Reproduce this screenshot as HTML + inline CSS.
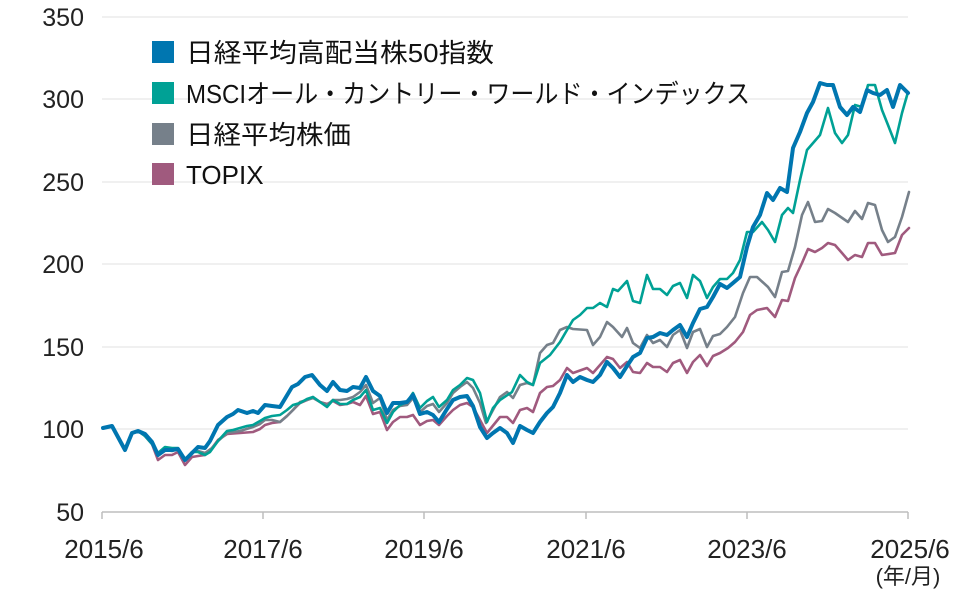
<!DOCTYPE html>
<html><head><meta charset="utf-8"><style>
body{margin:0;background:#fff;}
svg{display:block;font-family:"Liberation Sans","Noto Sans CJK JP",sans-serif;}
</style></head><body>
<svg width="960" height="590" viewBox="0 0 960 590" xmlns="http://www.w3.org/2000/svg">
<g stroke="#e8e8e8" stroke-width="1.2">
<line x1="102" x2="908" y1="17" y2="17"/><line x1="102" x2="908" y1="99" y2="99"/><line x1="102" x2="908" y1="182" y2="182"/><line x1="102" x2="908" y1="264" y2="264"/><line x1="102" x2="908" y1="347" y2="347"/><line x1="102" x2="908" y1="429" y2="429"/>
</g>
<g stroke="#bdbdbd" stroke-width="1.5">
<line x1="102" x2="908" y1="512" y2="512"/>
<line x1="102" x2="102" y1="512" y2="519"/><line x1="263" x2="263" y1="512" y2="519"/><line x1="424" x2="424" y1="512" y2="519"/><line x1="586" x2="586" y1="512" y2="519"/><line x1="747" x2="747" y1="512" y2="519"/><line x1="908" x2="908" y1="512" y2="519"/>
</g>
<g font-size="25" fill="#222" text-anchor="end">
<text x="84" y="26">350</text><text x="84" y="108">300</text><text x="84" y="191">250</text><text x="84" y="273">200</text><text x="84" y="356">150</text><text x="84" y="438">100</text><text x="84" y="521">50</text>
</g>
<g font-size="26" fill="#222" text-anchor="middle">
<text x="104" y="558">2015/6</text><text x="263" y="558">2017/6</text><text x="424" y="558">2019/6</text><text x="586" y="558">2021/6</text><text x="747" y="558">2023/6</text><text x="910" y="558">2025/6</text>
</g>
<text x="908" y="584" font-size="22" fill="#222" text-anchor="middle">(年/月)</text>
<g fill="none" stroke-linejoin="round" stroke-linecap="round">
<polyline stroke="#a05a7e" stroke-width="2.6" points="103,428 112,426 125,450 132,433 138,431 145,436 152,444 158,460 165,455 172,455 178,452 185,465 192,457 198,456 205,455 212,448 218,440 227,434 240,433 253,432 260,429 265,425 272,423 280,422 287,416 293,410 300,403 307,400 313,397 320,402 327,404 333,401 340,405 347,404 353,402 360,405 366,396 373,414 380,412 387,430 393,422 400,417 407,417 413,415 420,425 427,421 433,420 439,425 447,416 453,410 460,405 467,403 473,407 480,420 487,433 500,417 507,417 513,423 520,410 527,408 533,412 540,393 547,387 553,386 560,380 567,368 573,373 587,368 593,373 607,357 613,359 620,368 627,362 633,372 640,373 647,363 653,367 660,367 667,372 673,363 680,360 687,373 693,362 700,355 707,366 713,356 720,353 728,348 735,342 743,332 750,315 757,310 767,308 775,317 782,300 788,301 795,278 802,263 808,249 815,252 822,248 828,243 835,245 842,253 848,260 855,255 862,257 868,243 875,243 882,255 895,253 902,235 909,228"/>
<polyline stroke="#76808a" stroke-width="2.6" points="103,428 112,426 125,450 132,433 138,431 145,436 152,444 158,455 165,450 172,451 178,449 185,460 192,452 198,451 205,453 212,448 218,441 227,433 240,431 253,427 260,424 265,420 272,420 280,422 287,416 293,410 300,402 307,400 313,398 320,402 327,405 333,400 340,400 347,399 353,397 360,392 366,385 373,403 380,398 387,420 393,410 400,406 407,405 413,398 420,412 427,406 433,404 439,412 447,403 453,393 460,387 467,382 473,388 480,403 486,423 493,410 500,397 507,392 513,398 520,385 527,383 533,385 540,353 547,345 553,343 560,330 567,327 573,329 587,330 593,345 600,337 607,322 613,327 622,337 627,328 633,343 640,348 647,335 653,343 660,340 667,347 673,335 680,330 687,348 693,332 700,329 707,347 713,336 720,334 727,327 735,317 743,293 750,277 757,277 768,287 775,297 782,272 788,271 795,247 802,215 808,202 815,222 822,221 828,209 835,213 848,222 855,211 862,219 868,203 875,205 882,230 888,242 895,237 902,217 909,192"/>
<polyline stroke="#00a195" stroke-width="2.6" points="103,428 112,426 125,450 132,433 138,431 145,436 152,444 158,453 165,447 172,448 178,448 185,460 192,452 198,452 205,455 210,452 218,441 227,431 233,430 240,428 247,426 253,425 260,421 265,418 272,416 280,415 287,410 293,405 300,403 307,399 313,397 320,402 327,407 333,400 340,404 347,404 353,400 360,397 366,390 373,410 380,408 387,423 393,412 400,405 407,402 413,393 420,408 427,401 433,397 439,407 447,400 453,390 460,385 467,378 473,380 480,393 487,422 493,408 500,400 512,392 520,375 527,382 533,385 540,363 550,355 560,342 567,330 573,320 580,315 587,308 593,308 600,303 607,307 613,289 618,291 627,281 633,301 640,303 647,275 653,289 660,289 667,295 673,286 680,283 687,298 693,275 700,281 707,298 713,287 720,279 727,279 733,273 740,260 747,232 753,232 762,222 768,230 775,242 782,215 788,208 793,213 800,180 807,150 820,135 828,108 835,133 842,143 848,135 855,105 862,107 868,85 875,85 882,110 888,125 895,143 902,113 908,92"/>
<polyline stroke="#0076b0" stroke-width="4" points="103,428 112,426 125,450 132,433 138,431 145,434 152,442 158,455 165,450 172,450 178,449 185,460 192,453 198,447 205,448 210,441 218,425 227,417 233,414 238,410 247,413 253,411 258,413 265,405 272,406 280,407 292,387 298,384 305,377 312,375 320,385 327,391 333,382 340,390 347,391 353,387 360,388 366,377 373,391 380,396 387,413 393,403 400,403 407,402 413,395 420,414 427,412 433,415 439,422 447,409 453,400 460,397 467,396 473,406 480,427 487,438 493,433 500,428 507,433 513,443 520,426 527,430 533,433 540,422 547,413 553,407 560,393 567,375 573,382 580,377 587,380 593,382 600,375 607,362 613,368 620,377 627,366 633,357 640,353 647,338 653,337 660,333 667,335 673,330 680,325 687,337 693,323 700,309 707,307 713,297 720,284 727,288 733,283 740,277 747,247 753,227 760,215 767,193 773,200 780,188 787,192 793,148 800,132 807,113 813,102 820,83 827,85 833,85 840,107 847,115 853,107 860,112 867,90 873,93 880,95 887,90 893,107 900,85 908,93"/>
</g>
<rect x="152" y="41" width="22" height="22" fill="#0076b0"/>
<rect x="152" y="82" width="22" height="22" fill="#00a195"/>
<rect x="152" y="123" width="22" height="22" fill="#76808a"/>
<rect x="152" y="163" width="22" height="22" fill="#a05a7e"/>
<g font-size="26" fill="#111">
<text x="186" y="62" textLength="308" lengthAdjust="spacingAndGlyphs">日経平均高配当株50指数</text>
<text x="186" y="103" textLength="564" lengthAdjust="spacingAndGlyphs">MSCIオール・カントリー・ワールド・インデックス</text>
<text x="186" y="144" textLength="165" lengthAdjust="spacingAndGlyphs">日経平均株価</text>
<text x="186" y="184">TOPIX</text>
</g>
</svg>
</body></html>
